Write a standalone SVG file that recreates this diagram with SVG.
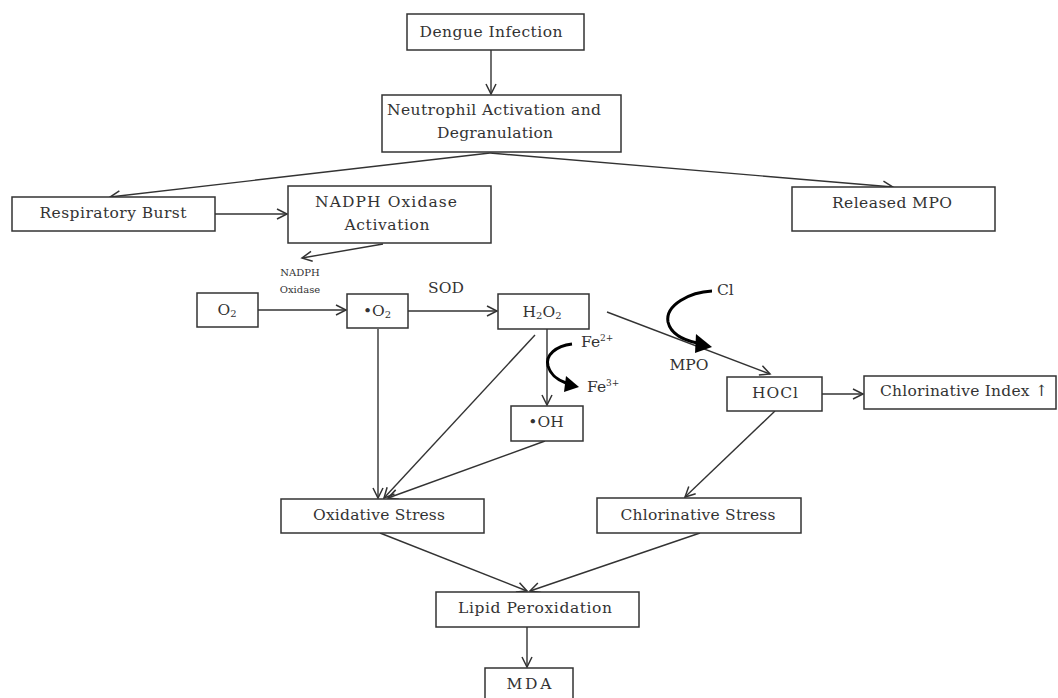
<svg xmlns="http://www.w3.org/2000/svg" width="1058" height="698" viewBox="0 0 1058 698">
<defs>
<style>
.box{fill:#fff;stroke:#333;stroke-width:1.5}
.t{font-family:"DejaVu Serif","Liberation Serif",serif;font-size:15.5px;fill:#333;text-anchor:middle}
.l{text-anchor:start}
.s{font-family:"DejaVu Serif","Liberation Serif",serif;font-size:10px;fill:#333;text-anchor:middle}
.c{fill:none;stroke:#333;stroke-width:1.4}
.a{marker-end:url(#ah)}
.curve{fill:none;stroke:#000;stroke-width:3}
</style>
<marker id="ah" markerUnits="userSpaceOnUse" markerWidth="14" markerHeight="14" refX="11" refY="6" orient="auto">
<path d="M1,1 L11,6 L1,11" fill="none" stroke="#333" stroke-width="1.5"/>
</marker>
</defs>
<rect width="1058" height="698" fill="#fff"/>
<g id="connectors">
<line class="c a" x1="491" y1="50" x2="491" y2="94"/>
<line class="c a" x1="490" y1="153" x2="110" y2="197"/>
<line class="c a" x1="490" y1="153" x2="893" y2="187"/>
<line class="c a" x1="215" y1="214" x2="287" y2="214"/>
<line class="c a" x1="383" y1="244" x2="302" y2="258"/>
<line class="c a" x1="258" y1="310" x2="346" y2="310"/>
<line class="c a" x1="408" y1="311" x2="497" y2="311"/>
<line class="c a" x1="607" y1="312" x2="770" y2="374"/>
<line class="c a" x1="547" y1="329" x2="547" y2="405"/>
<line class="c a" x1="378" y1="329" x2="378" y2="498"/>
<line class="c a" x1="535" y1="335" x2="384" y2="498"/>
<line class="c a" x1="545" y1="441" x2="388" y2="498"/>
<line class="c a" x1="822" y1="394" x2="863" y2="394"/>
<line class="c a" x1="775" y1="411" x2="685" y2="497"/>
<line class="c a" x1="380" y1="533" x2="527" y2="591"/>
<line class="c a" x1="700" y1="533" x2="530" y2="591"/>
<line class="c a" x1="527" y1="627" x2="527" y2="667"/>
<path class="curve" d="M712,291 C690,292 665,305 668,322 C671,335 684,340 697,343"/>
<polygon points="712,347 696,334 695,353" fill="#000"/>
<path class="curve" d="M572,344 C556,346 545,355 548,366 C551,376 558,380 566,383"/>
<polygon points="579,387 566,376 564,392" fill="#000"/>
</g>
<g id="dengue"><rect class="box" x="407" y="14" width="177" height="36"/><text class="t" x="491" y="37" textLength="143">Dengue Infection</text></g>
<g id="neutrophil"><rect class="box" x="382" y="95" width="239" height="57"/><text class="t" x="494" y="115" textLength="214">Neutrophil Activation and</text><text class="t" x="495" y="138" textLength="116">Degranulation</text></g>
<g id="respiratory"><rect class="box" x="12" y="197" width="203" height="34"/><text class="t" x="113" y="218" textLength="147">Respiratory Burst</text></g>
<g id="nadph"><rect class="box" x="288" y="186" width="203" height="57"/><text class="t" x="386" y="207" textLength="142">NADPH Oxidase</text><text class="t" x="387" y="230" textLength="85">Activation</text></g>
<g id="mpo"><rect class="box" x="792" y="187" width="203" height="44"/><text class="t" x="892" y="208" textLength="120">Released MPO</text></g>
<g id="nadph-label"><text class="s" x="300" y="276">NADPH</text><text class="s" x="300" y="293">Oxidase</text></g>
<g id="o2"><rect class="box" x="197" y="293" width="61" height="34"/><text class="t" x="227" y="315">O<tspan font-size="10" dy="2">2</tspan></text></g>
<g id="superoxide"><rect class="box" x="347" y="294" width="61" height="34"/><text class="t" x="377" y="316">•O<tspan font-size="10" dy="2">2</tspan></text></g>
<g id="sod"><text class="t" x="446" y="293">SOD</text></g>
<g id="h2o2"><rect class="box" x="498" y="294" width="91" height="35"/><text class="t" x="542" y="317">H<tspan font-size="10" dy="2">2</tspan><tspan dy="-2">O</tspan><tspan font-size="10" dy="2">2</tspan></text></g>
<g id="fe"><text class="t l" x="581" y="347">Fe<tspan font-size="9" dy="-6">2+</tspan></text><text class="t l" x="587" y="392">Fe<tspan font-size="9" dy="-6">3+</tspan></text></g>
<g id="cl"><text class="t l" x="717" y="295">Cl</text></g>
<g id="mpo-label"><text class="t" x="689" y="370">MPO</text></g>
<g id="oh"><rect class="box" x="511" y="406" width="72" height="35"/><text class="t" x="546" y="427">•OH</text></g>
<g id="hocl"><rect class="box" x="727" y="377" width="95" height="34"/><text class="t" x="775" y="398" textLength="46">HOCl</text></g>
<g id="chlor-index"><rect class="box" x="864" y="376" width="192" height="33"/><text class="t" x="964" y="396" textLength="168">Chlorinative Index ↑</text></g>
<g id="ox-stress"><rect class="box" x="281" y="499" width="203" height="34"/><text class="t" x="379" y="520" textLength="132">Oxidative Stress</text></g>
<g id="chlor-stress"><rect class="box" x="597" y="498" width="204" height="35"/><text class="t" x="698" y="520" textLength="155">Chlorinative Stress</text></g>
<g id="lipid"><rect class="box" x="436" y="592" width="203" height="35"/><text class="t" x="535" y="613" textLength="154">Lipid Peroxidation</text></g>
<g id="mda"><rect class="box" x="485" y="668" width="88" height="40"/><text class="t" x="529" y="689" textLength="45">MDA</text></g>
</svg>
